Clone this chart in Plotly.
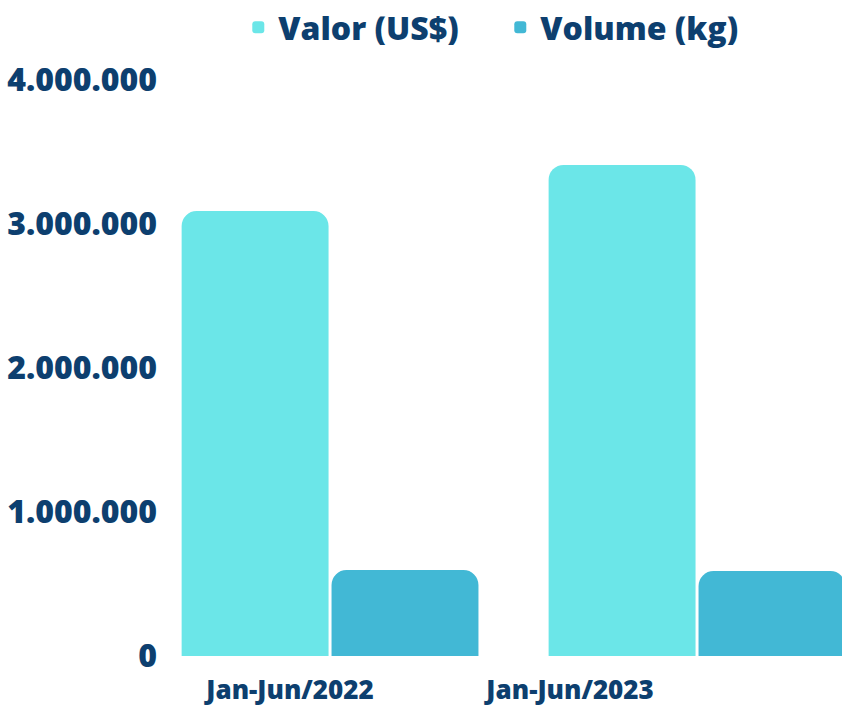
import plotly.graph_objects as go

categories = ["Jan-Jun/2022", "Jan-Jun/2023"]
valor_usd = [3090000, 3410000]
volume_kg = [597000, 590000]
y_ticks = [0, 1000000, 2000000, 3000000, 4000000]
y_tick_labels = ["0", "1.000.000", "2.000.000", "3.000.000", "4.000.000"]

NAVY = "#0d3f6f"
FONT = "Open Sans"

fig = go.Figure()
fig.add_trace(go.Bar(x=[0, 1], y=valor_usd, name="Valor (US$)",
                     marker=dict(color="#6be6e8", line=dict(width=0))))
fig.add_trace(go.Bar(x=[0, 1], y=volume_kg, name="Volume (kg)",
                     marker=dict(color="#42b8d5", line=dict(width=0))))
# helper (empty) trace so the category label axis is drawn
fig.add_trace(go.Scatter(x=[None], y=[None], xaxis="x2", yaxis="y",
                         showlegend=False, hoverinfo="skip", mode="markers"))

fig.update_layout(
    width=842, height=707,
    margin=dict(l=166, r=0, t=80, b=51, pad=0, autoexpand=False),
    paper_bgcolor="white", plot_bgcolor="white",
    barmode="group", bargap=0.183, bargroupgap=0.02, barcornerradius=15,
    font=dict(family=FONT, color=NAVY, size=30, weight=800),
    showlegend=True,
    legend=dict(orientation="h", xref="container", yref="container",
                x=0.283, xanchor="left", y=1.0, yanchor="top",
                entrywidth=217, entrywidthmode="pixels",
                font=dict(family=FONT, size=32, color=NAVY, weight=800),
                bgcolor="rgba(0,0,0,0)", itemclick=False),
    xaxis=dict(type="linear", range=[-0.447, 1.395], showticklabels=False,
               showgrid=False, zeroline=False, showline=False, ticks="",
               automargin=False),
    xaxis2=dict(type="linear", overlaying="x", side="bottom", anchor="y",
                range=[-0.443, 1.971], tickmode="array", tickvals=[0, 1],
                ticktext=categories, showgrid=False, zeroline=False,
                showline=False, ticks="", automargin=False,
                ticklabelstandoff=16,
                tickfont=dict(family=FONT, size=26, color=NAVY, weight=800)),
    yaxis=dict(range=[0, 4000000], tickmode="array", tickvals=y_ticks,
               ticktext=y_tick_labels, showgrid=False, zeroline=False,
               showline=False, ticks="", ticklabelstandoff=8, automargin=False,
               tickfont=dict(family=FONT, size=32, color=NAVY, weight=800)),
)

fig.write_html("out.html",
               config={"displayModeBar": False},
               post_script="document.body.style.margin='0';document.body.style.overflow='hidden';")
